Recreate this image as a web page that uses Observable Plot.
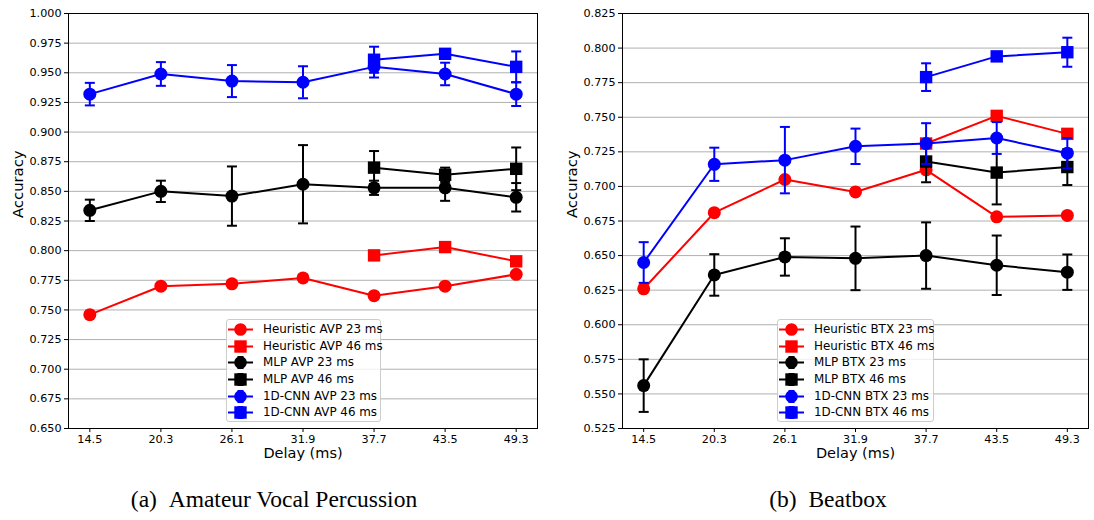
<!DOCTYPE html>
<html>
<head>
<meta charset="utf-8">
<script src="https://cdn.jsdelivr.net/npm/d3@7"></script>
<script src="https://cdn.jsdelivr.net/npm/@observablehq/plot@0.6"></script>
<style>
  body { margin: 0; background: #fff; }
  #root { position: relative; width: 1094px; height: 520px; overflow: hidden; font-family: "DejaVu Sans", sans-serif; }
  .panel { position: absolute; top: 0; }
  .legend { position: absolute; box-sizing: border-box; border: 1px solid #cccccc; border-radius: 3px; background: rgba(255,255,255,0.8); padding-top: 1px; }
  .legend .row { position: relative; height: 16.7px; font-size: 11.9px; line-height: 16.7px; white-space: nowrap; color: #000; }
  .legend .row svg { position: absolute; left: 0px; top: 0; }
  .legend .row span { position: absolute; left: 36px; top: 0; }
  .caption { position: absolute; font-family: "Liberation Serif", "Times New Roman", serif; font-size: 23.5px; color: #000; transform: translateX(-50%); white-space: nowrap; }
</style>
</head>
<body>
<div id="root"></div>
<script>
// ---------- data ----------
const delays = [14.5, 20.3, 26.1, 31.9, 37.7, 43.5, 49.3];
const delays46 = [37.7, 43.5, 49.3];

const methods = ["Heuristic", "MLP", "1D-CNN"];
const methodColors = ["#ff0000", "#000000", "#0000ff"];

// Amateur Vocal Percussion (AVP)
const avpTicks = [0.650, 0.675, 0.700, 0.725, 0.750, 0.775, 0.800, 0.825, 0.850, 0.875, 0.900, 0.925, 0.950, 0.975, 1.000];
const heurAvp23 = [0.746, 0.770, 0.772, 0.777, 0.762, 0.770, 0.780];
const heurAvp46 = [0.796, 0.803, 0.791];
const mlpAvp23 = [0.834, 0.850, 0.846, 0.856, 0.853, 0.853, 0.845];
const mlpAvp23Err = [0.009, 0.009, 0.025, 0.033, 0.006, 0.011, 0.012];
const mlpAvp46 = [0.870, 0.864, 0.869];
const mlpAvp46Err = [0.014, 0.006, 0.018];
const cnnAvp23 = [0.932, 0.949, 0.943, 0.942, 0.955, 0.949, 0.932];
const cnnAvp23Err = [0.0095, 0.010, 0.0135, 0.0135, 0.009, 0.0095, 0.010];
const cnnAvp46 = [0.961, 0.966, 0.955];
const cnnAvp46Err = [0.011, 0.004, 0.013];

// Beatbox (BTX)
const btxTicks = [0.525, 0.550, 0.575, 0.600, 0.625, 0.650, 0.675, 0.700, 0.725, 0.750, 0.775, 0.800, 0.825];
const heurBtx23 = [0.626, 0.681, 0.705, 0.696, 0.712, 0.678, 0.679];
const heurBtx46 = [0.731, 0.751, 0.738];
const mlpBtx23 = [0.556, 0.636, 0.649, 0.648, 0.650, 0.643, 0.638];
const mlpBtx23Err = [0.019, 0.015, 0.0135, 0.023, 0.024, 0.0215, 0.0128];
const mlpBtx46 = [0.718, 0.710, 0.714];
const mlpBtx46Err = [0.015, 0.023, 0.013];
const cnnBtx23 = [0.645, 0.716, 0.719, 0.729, 0.731, 0.735, 0.724];
const cnnBtx23Err = [0.0147, 0.012, 0.024, 0.0128, 0.0147, 0.0115, 0.011];
const cnnBtx46 = [0.779, 0.794, 0.797];
const cnnBtx46Err = [0.010, 0.002, 0.0105];

// ---------- build ----------
function series(method, win, xs, ys, errs) {
  const color = methodColors[methods.indexOf(method)];
  return xs.map((x, i) => ({
    delay: x, acc: ys[i],
    lo: errs ? ys[i] - errs[i] : null,
    hi: errs ? ys[i] + errs[i] : null,
    color, win, method
  }));
}

const capSymbol = { draw(ctx) { ctx.moveTo(-5, 0); ctx.lineTo(5, 0); } };

function seriesMarks(s) {
  const marks = [];
  const withErr = s.filter(d => d.lo != null);
  if (withErr.length) {
    marks.push(Plot.ruleX(withErr, {x: "delay", y1: "lo", y2: "hi", stroke: "color", strokeWidth: 2}));
    marks.push(Plot.dot(withErr, {x: "delay", y: "lo", symbol: capSymbol, r: 5, fill: "none", stroke: "color", strokeWidth: 2}));
    marks.push(Plot.dot(withErr, {x: "delay", y: "hi", symbol: capSymbol, r: 5, fill: "none", stroke: "color", strokeWidth: 2}));
  }
  marks.push(Plot.line(s, {x: "delay", y: "acc", stroke: "color", strokeWidth: 2}));
  const isSquare = s[0].win === "46 ms";
  marks.push(Plot.dot(s, {x: "delay", y: "acc", symbol: isSquare ? "square" : "circle", r: isSquare ? 7 : 6.5, fill: "color", stroke: "none"}));
  return marks;
}

function makeChart({allSeries, yDomain, yTicks, width, marginLeft, marginRight}) {
  return Plot.plot({
    width, height: 470,
    marginLeft, marginRight, marginTop: 13, marginBottom: 42,
    style: {fontFamily: "DejaVu Sans", fontSize: "11px", color: "#000", background: "transparent"},
    x: {domain: [12.76, 51.04]},
    y: {domain: yDomain},
    color: {type: "identity"},
    marks: [
      Plot.gridY(yTicks, {stroke: "#b0b0b0", strokeOpacity: 1, strokeWidth: 1}),
      ...allSeries.flatMap(seriesMarks),
      Plot.frame({stroke: "#000", strokeWidth: 1}),
      Plot.axisX({ticks: delays, tickFormat: d => d.toFixed(1), tickSize: 4, tickPadding: 3, fontSize: 11.2, label: null}),
      Plot.axisY({ticks: yTicks, tickFormat: d3.format(".3f"), tickSize: 4, tickPadding: 3, fontSize: 11.2, label: null}),
      Plot.text(["Delay (ms)"], {frameAnchor: "bottom", dy: 29, fontSize: 14.5}),
      Plot.text(["Accuracy"], {frameAnchor: "left", dx: -50, dy: -3, rotate: -90, fontSize: 14.8})
    ]
  });
}

const avpSeries = [
  series("Heuristic", "23 ms", delays, heurAvp23, null),
  series("Heuristic", "46 ms", delays46, heurAvp46, null),
  series("MLP", "23 ms", delays, mlpAvp23, mlpAvp23Err),
  series("MLP", "46 ms", delays46, mlpAvp46, mlpAvp46Err),
  series("1D-CNN", "23 ms", delays, cnnAvp23, cnnAvp23Err),
  series("1D-CNN", "46 ms", delays46, cnnAvp46, cnnAvp46Err)
];
const btxSeries = [
  series("Heuristic", "23 ms", delays, heurBtx23, null),
  series("Heuristic", "46 ms", delays46, heurBtx46, null),
  series("MLP", "23 ms", delays, mlpBtx23, mlpBtx23Err),
  series("MLP", "46 ms", delays46, mlpBtx46, mlpBtx46Err),
  series("1D-CNN", "23 ms", delays, cnnBtx23, cnnBtx23Err),
  series("1D-CNN", "46 ms", delays46, cnnBtx46, cnnBtx46Err)
];

const root = document.getElementById("root");

function addPanel(chart, left) {
  const d = document.createElement("div");
  d.className = "panel";
  d.style.left = left + "px";
  d.appendChild(chart);
  root.appendChild(d);
}

addPanel(makeChart({allSeries: avpSeries, yDomain: [0.65, 1.0], yTicks: avpTicks, width: 547, marginLeft: 68, marginRight: 10}), 0);
addPanel(makeChart({allSeries: btxSeries, yDomain: [0.525, 0.825], yTicks: btxTicks, width: 541, marginLeft: 69, marginRight: 6}), 553);

function legend(seriesList, dataset, left, top, width) {
  const box = document.createElement("div");
  box.className = "legend";
  box.style.left = left + "px";
  box.style.top = top + "px";
  box.style.width = width + "px";
  box.style.height = "103px";
  for (const s of seriesList) {
    const d0 = s[0];
    const row = document.createElement("div");
    row.className = "row";
    const hasErr = d0.lo != null;
    const sq = d0.win === "46 ms";
    let svg = `<svg width="28" height="17" viewBox="0 0 28 17">`;
    svg += `<line x1="1" x2="26" y1="8.5" y2="8.5" stroke="${d0.color}" stroke-width="2"/>`;
    if (hasErr) {
      svg += `<line x1="13.5" x2="13.5" y1="3" y2="14" stroke="${d0.color}" stroke-width="2"/>`;
      svg += `<line x1="10.5" x2="16.5" y1="3" y2="3" stroke="${d0.color}" stroke-width="2"/>`;
      svg += `<line x1="10.5" x2="16.5" y1="14" y2="14" stroke="${d0.color}" stroke-width="2"/>`;
    }
    svg += sq ? `<rect x="7.3" y="2.3" width="12.4" height="12.4" fill="${d0.color}"/>`
              : `<circle cx="13.5" cy="8.5" r="6.3" fill="${d0.color}"/>`;
    svg += `</svg>`;
    row.innerHTML = svg + `<span>${d0.method} ${dataset} ${d0.win}</span>`;
    box.appendChild(row);
  }
  root.appendChild(box);
}

legend(avpSeries, "AVP", 226, 319, 155);
legend(btxSeries, "BTX", 777, 319, 157);

function caption(text, cx, top) {
  const c = document.createElement("div");
  c.className = "caption";
  c.style.left = cx + "px";
  c.style.top = top + "px";
  c.textContent = text;
  root.appendChild(c);
}
caption("(a)\u2002Amateur Vocal Percussion", 274, 486);
caption("(b)\u2002Beatbox", 828, 486);
</script>
</body>
</html>
